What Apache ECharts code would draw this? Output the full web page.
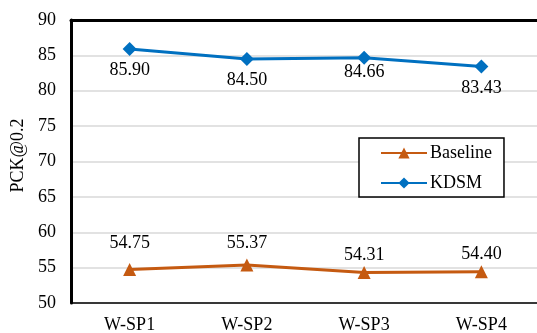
<!DOCTYPE html>
<html>
<head>
<meta charset="utf-8">
<script src="https://cdn.jsdelivr.net/npm/echarts@6/dist/echarts.min.js"></script>
<style>html,body{margin:0;padding:0;background:#fff;}#c{width:537px;height:333px;}</style>
</head>
<body>
<div id="c"></div>
<script>
const categories = ['W-SP1', 'W-SP2', 'W-SP3', 'W-SP4'];
const baseline = [54.75, 55.37, 54.31, 54.40];
const kdsm = [85.90, 84.50, 84.66, 83.43];
const yMin = 50, yMax = 90, yStep = 5;
// label placement tweaks (pixels), styling only
const baselineLabelShift = [1, 6, 10, 10];
const kdsmLabelShift = [0, 0, -7, 1];
const font = '"Liberation Serif", "Times New Roman", serif';

const chart = echarts.init(document.getElementById('c'), null, {renderer: 'canvas'});
chart.setOption({
  animation: false,
  textStyle: {fontFamily: font},
  grid: {left: 71, top: 20, right: -3, bottom: 30, containLabel: false, outerBoundsMode: 'none'},
  legend: {
    orient: 'vertical',
    left: 359, top: 138,
    data: ['Baseline', 'KDSM'],
    itemWidth: 46, itemHeight: 14, itemGap: 12,
    padding: [6, 12, 5, 21],
    borderColor: '#000', borderWidth: 1.5,
    backgroundColor: '#fff',
    textStyle: {fontFamily: font, fontSize: 18, color: '#000', padding: [0, 0, 0, -2]}
  },
  xAxis: [{
    type: 'category', data: categories, boundaryGap: true,
    axisLine: {lineStyle: {color: '#000', width: 1.5}},
    axisTick: {show: false},
    axisLabel: {fontFamily: font, fontSize: 18, color: '#000', margin: 13}
  }, {
    type: 'category', data: categories, position: 'top',
    axisLine: {lineStyle: {color: '#000', width: 3}},
    axisTick: {show: false}, axisLabel: {show: false}
  }],
  yAxis: {
    type: 'value', min: yMin, max: yMax, interval: yStep,
    name: 'PCK@0.2', nameLocation: 'middle', nameGap: 42,
    nameTextStyle: {fontFamily: font, fontSize: 18, color: '#000', padding: [0, 0, 0, 12]},
    axisLine: {show: true, lineStyle: {color: '#000', width: 3}},
    axisTick: {show: false},
    axisLabel: {fontFamily: font, fontSize: 18, color: '#000', margin: 15},
    splitLine: {lineStyle: {color: '#d9d9d9', width: 1.5}}
  },
  series: [{
    name: 'Baseline', type: 'line',
    data: baseline.map((v, i) => ({value: v, label: {offset: [0, baselineLabelShift[i]]}})),
    color: '#C55A11',
    lineStyle: {width: 3},
    symbol: 'triangle', symbolSize: 13,
    label: {show: true, position: 'top', distance: 12, formatter: p => p.value.toFixed(2),
      fontFamily: font, fontSize: 18, color: '#000'}
  }, {
    name: 'KDSM', type: 'line',
    data: kdsm.map((v, i) => ({value: v, label: {offset: [0, kdsmLabelShift[i]]}})),
    color: '#0070C0',
    lineStyle: {width: 3},
    symbol: 'diamond', symbolSize: 14,
    label: {show: true, position: 'bottom', distance: 5, formatter: p => p.value.toFixed(2),
      fontFamily: font, fontSize: 18, color: '#000'}
  }]
});
</script>
</body>
</html>
